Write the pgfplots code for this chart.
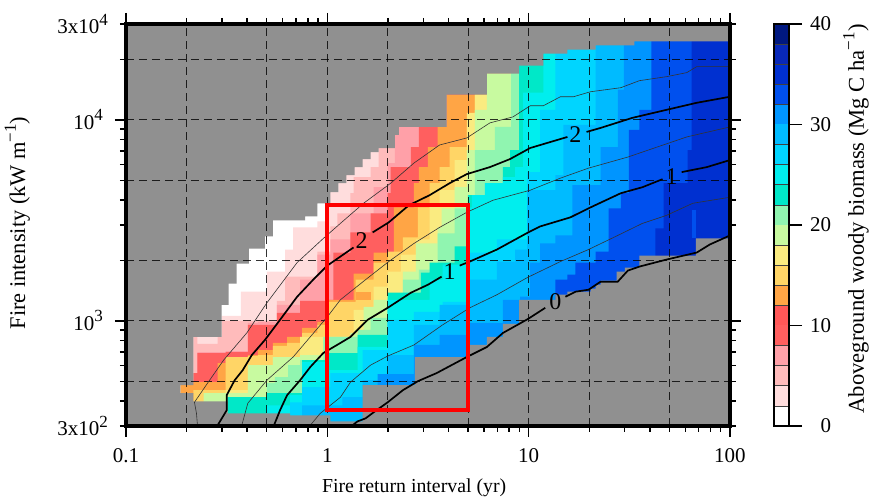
\documentclass[border=0pt]{standalone}
\usepackage{fontspec}
\setmainfont{Liberation Serif}
\usepackage{pgfplots}
\pgfplotsset{compat=1.18}
\definecolor{nodata}{HTML}{909090}
\definecolor{lv0}{HTML}{FFFFFF}
\definecolor{lv2}{HTML}{FFDDDD}
\definecolor{lv4}{HTML}{FFBBBB}
\definecolor{lv6}{HTML}{FFA0A8}
\definecolor{lv8}{HTML}{FF5F5F}
\definecolor{lv10}{HTML}{FF5858}
\definecolor{lv12}{HTML}{FFA545}
\definecolor{lv14}{HTML}{FFD566}
\definecolor{lv16}{HTML}{FAEB80}
\definecolor{lv18}{HTML}{C8FAA0}
\definecolor{lv20}{HTML}{90F5B0}
\definecolor{lv22}{HTML}{00E8C8}
\definecolor{lv24}{HTML}{00EEEE}
\definecolor{lv26}{HTML}{00D5FF}
\definecolor{lv28}{HTML}{00BBFF}
\definecolor{lv30}{HTML}{0095FF}
\definecolor{lv32}{HTML}{0050EE}
\definecolor{lv34}{HTML}{0030D0}
\definecolor{lv36}{HTML}{0828B8}
\definecolor{lv38}{HTML}{001880}
\tikzset{
  griddash/.style={black, line width=0.5pt, dash pattern=on 4pt off 2.5pt, opacity=0.8},
  thickc/.style={black, line width=0.85pt},
  thinc/.style={black!80, line width=0.3pt},
  clabel/.style={font=\fontsize{12}{12}\selectfont, inner sep=0pt},
}
% level n: top edge (log10 intensity vs log10 return interval) of the area with biomass >= n
\newcommand{\level}[2]{\addplot[const plot, fill=lv#1, draw=none] coordinates {#2} \closedcycle;}
\newcommand{\cbar}[3]{\addplot[fill=#1, draw=none] coordinates {(0,#2) (1,#2) (1,#3) (0,#3)} -- cycle;}
\newcommand{\sps}[1]{\raisebox{0.42em}{\fontsize{8.5}{8.5}\selectfont #1}}
\begin{document}
\begin{tikzpicture}[font=\fontsize{10.5}{12}\selectfont]
\useasboundingbox (-63pt,-37.5pt) rectangle (371.5pt,213pt);
\begin{axis}[
  at={(0,0)}, anchor=south west,
  scale only axis, width=302pt, height=201pt,
  xmin=-1, xmax=2, ymin=2.477, ymax=4.477,
  axis on top,
  axis background/.style={fill=white},
  axis line style={line width=1.7pt},
  tick align=outside,
  tick style={black, line width=0.7pt},
  tick label style={font=\fontsize{10.5}{12}\selectfont},
  x tick label style={yshift=-2.2pt},
  y tick label style={xshift=-2.5pt},
  major tick length=5.5pt, minor tick length=3pt,
  xtick={-1,0,1,2}, xticklabels={0.1,1,10,100},
  minor xtick={-0.699,-0.523,-0.398,-0.301,-0.222,-0.155,-0.097,-0.046,
    0.301,0.477,0.602,0.699,0.778,0.845,0.903,0.954,
    1.301,1.477,1.602,1.699,1.778,1.845,1.903,1.954},
  ytick={3,4}, yticklabels={10\sps{3},10\sps{4}},
  extra y ticks={2.477,4.477},
  extra y tick labels={3x10\sps{2},3x10\sps{4}},
  extra y tick style={major tick length=3pt},
  minor ytick={2.602,2.699,2.778,2.845,2.903,2.954,
    3.301,3.477,3.602,3.699,3.778,3.845,3.903,3.954,4.301},
  xlabel={Fire return interval (yr)},
  ylabel={Fire intensity (kW m\sps{−1})},
  x label style={at={(axis description cs:0.477,-0.154)}, anchor=center, font=\fontsize{9.9}{12}\selectfont},
  y label style={at={(axis description cs:-0.18,0.505)}, anchor=center, font=\fontsize{11.2}{12}\selectfont},
]
\addplot[fill=lv0, draw=none] coordinates {(-1,2.477) (2,2.477) (2,4.477) (-1,4.477)} -- cycle;
\level{2}{(-.665,2.92)(-.525,3.025)(-.43,3.145)(-.30,3.245)(-.21,3.355)(-.17,3.465)(-.05,3.495)(0,3.64)(.055,4.477)(2,4.477)}
\level{4}{(-.665,2.92)(-.645,2.885)(-.545,2.92)(-.525,3)(-.25,3.10)(-.21,3.22)(-.05,3.345)(.015,3.47)(.05,3.535)(.115,3.635)(.13,3.715)(.215,3.765)(.255,3.86)(.335,3.925)(.355,4.477)(2,4.477)}
\level{6}{(-.645,2.845)(-.505,2.85)(-.395,2.99)(-.345,2.995)(-.25,3.08)(-.135,3.205)(-.05,3.33)(.015,3.405)(.115,3.535)(.23,3.665)(.30,3.785)(.335,3.965)(.365,4.477)(2,4.477)}
\level{8}{(-.665,2.74)(-.645,2.84)(-.505,2.845)(-.395,2.98)(-.25,3.04)(-.135,3.10)(0,3.105)(.03,3.34)(.115,3.44)(.215,3.535)(.30,3.635)(.315,3.765)(.415,3.865)(.455,3.965)(.5925,4.477)(2,4.477)}
\level{12}{(-.73,2.68)(-.665,2.695)(-.545,2.79)(-.505,2.82)(-.395,2.83)(-.345,2.855)(-.27,2.89)(-.20,2.92)(-.125,2.965)(-.05,2.995)(0,3.105)(.13,3.235)(.23,3.34)(.33,3.565)(.43,3.685)(.455,3.765)(.50,3.865)(.5475,3.965)(.5925,4.125)(.7325,4.477)(2,4.477)}
\level{14}{(-.665,2.655)(-.505,2.82)(-.395,2.825)(-.345,2.83)(-.27,2.875)(-.20,2.89)(-.125,2.94)(-.05,2.98)(0,3.095)(.14,3.205)(.23,3.29)(.30,3.345)(.375,3.415)(.45,3.565)(.5075,3.685)(.5575,3.765)(.6075,3.865)(.6925,3.965)(.7325,4.125)(.7925,4.477)(2,4.477)}
\addplot[fill=lv12, draw=none] coordinates {(.14,3.105) (.215,3.105) (.215,3.145) (.14,3.145)} -- cycle;
\level{16}{(-.615,2.60)(-.505,2.655)(-.395,2.77)(-.27,2.82)(-.135,2.92)(.13,3.055)(.23,3.17)(.30,3.245)(.365,3.33)(.44,3.405)(.5075,3.575)(.5575,3.65)(.6325,3.80)(.6925,4.035)(.7325,4.125)(.7925,4.477)(2,4.477)}
\level{18}{(-.615,2.64)(-.395,2.78)(-.27,2.82)(-.135,2.83)(-.02,2.92)(.115,2.94)(.18,3.07)(.23,3.105)(.375,3.245)(.44,3.385)(.5475,3.465)(.5675,3.56)(.6325,3.665)(.6925,3.85)(.7325,4.05)(.7925,4.23)(.9125,4.477)(2,4.477)}
\level{20}{(-.50,2.62)(-.30,2.69)(-.26,2.72)(-.195,2.78)(-.135,2.805)(-.02,2.92)(.15,2.955)(.215,3.015)(.30,3.105)(.375,3.205)(.455,3.255)(.5475,3.435)(.6325,3.56)(.7325,3.85)(.8325,3.965)(.9125,4.477)(2,4.477)}
\level{22}{(-.495,2.62)(-.30,2.64)(-.125,2.805)(0,2.84)(.15,2.93)(.30,3.14)(.465,3.24)(.5075,3.29)(.6325,3.37)(.6975,3.625)(.7925,3.685)(.8725,3.765)(.9075,3.85)(.9525,4.477)(2,4.477)}
\level{24}{(-.30,2.58)(-.185,2.63)(-.125,2.795)(0,2.755)(.15,2.87)(.30,3.105)(.5075,3.205)(.5725,3.28)(.6925,3.565)(.7175,3.625)(.7825,3.685)(.8725,3.715)(.9325,3.765)(.9725,4.135)(1.0725,4.477)(2,4.477)}
\level{26}{(-.185,2.595)(-.125,2.67)(.015,2.74)(.175,2.855)(.30,3.005)(.43,3.045)(.5725,3.095)(.6925,3.34)(.8425,3.405)(.9925,3.74)(1.0575,4.05)(1.1325,4.477)(2,4.477)}
\level{28}{(-.125,2.58)(.075,2.62)(.175,2.705)(.30,2.83)(.43,2.98)(.5575,3.08)(.6925,3.205)(.8425,3.295)(.9325,3.355)(.9925,3.65)(1.1325,3.725)(1.1725,3.975)(1.3325,4.477)(2,4.477)}
\level{30}{(.25,2.735)(.43,2.88)(.5575,2.93)(.6975,2.99)(.8725,3.105)(.9575,3.12)(1.0075,3.29)(1.0575,3.385)(1.1325,3.425)(1.2175,3.675)(1.3575,3.865)(1.4425,4.15)(1.4725,4.477)(2,4.477)}
\level{32}{(1.1325,3.205)(1.1925,3.23)(1.2325,3.29)(1.3325,3.345)(1.3975,3.56)(1.4575,3.635)(1.4975,3.95)(1.55,4.05)(1.61,4.477)(2,4.477)}
\level{34}{(1.63,3.46)(1.67,3.685)(1.79,3.85)(1.81,4.477)(2,4.477)}
\addplot[fill=lv32, draw=none] coordinates {(1.81,3.41) (1.83,3.41) (1.83,3.55) (1.81,3.55)} -- cycle;
% grey where there is no model output
\addplot[const plot, fill=nodata, draw=none] coordinates {(-1,2.477)(-.73,2.68)(-.665,2.92)(-.525,3.08)(-.49,3.185)(-.45,3.285)(-.39,3.36)(-.31,3.42)(-.27,3.50)(-.11,3.52)(-.05,3.585)(.015,3.64)(.055,3.685)(.095,3.725)(.135,3.765)(.175,3.805)(.215,3.84)(.255,3.86)(.335,3.925)(.355,3.965)(.5925,4.125)(.7925,4.23)(.9525,4.27)(1.0725,4.33)(1.1925,4.35)(1.3325,4.37)(1.525,4.39)(2,4.39)} -- (axis cs:2,4.477) -- (axis cs:-1,4.477) -- cycle;
\addplot[const plot, fill=nodata, draw=none] coordinates {(-1,2.64)(-.665,2.60)(-.495,2.54)(-.185,2.53)(.015,2.50)(.175,2.68)(.435,2.82)(.6975,2.88)(.7925,2.92)(.8725,2.985)(.9525,3.105)(1.1325,3.13)(1.1925,3.145)(1.3075,3.16)(1.3325,3.18)(1.3575,3.20)(1.4375,3.245)(1.4775,3.265)(1.55,3.325)(1.83,3.41)(2,3.41)} \closedcycle;
% dashed reference lines
\pgfplotsinvokeforeach{-0.699,-0.301,0,0.301,0.699,1,1.301,1.699}{
  \addplot[griddash] coordinates {(#1,2.477) (#1,4.477)};
}
\pgfplotsinvokeforeach{2.699,3,3.301,3.699,4,4.301}{
  \addplot[griddash] coordinates {(-1,#1) (2,#1)};
}
% contours
\addplot[thickc] coordinates {(-.545,2.48)(-.50,2.555)(-.50,2.63)(-.46,2.705)(-.42,2.755)(-.375,2.83)(-.31,2.905)(-.235,3.005)(-.15,3.12)(-.07,3.205)(0,3.275)(.065,3.32)(.13,3.365)};
\addplot[thickc] coordinates {(.225,3.44)(.305,3.49)(.405,3.575)(.5075,3.625)(.6075,3.685)(.6925,3.73)(.8075,3.765)(.9075,3.805)(1.0075,3.86)(1.1925,3.915)};
\addplot[thickc] coordinates {(1.2875,3.94)(1.3575,3.96)(1.515,4.01)(1.685,4.05)(1.835,4.085)(2,4.115)};
\addplot[thickc] coordinates {(-.265,2.48)(-.235,2.555)(-.20,2.63)(-.135,2.705)(-.085,2.77)(-.02,2.84)(.065,2.89)(.115,2.92)(.20,3.005)(.30,3.065)(.415,3.14)(.5,3.18)(.5675,3.22)};
\addplot[thickc] coordinates {(.6575,3.275)(.7075,3.295)(.8425,3.355)(.9975,3.44)(1.0575,3.47)(1.2075,3.515)(1.2975,3.56)(1.4575,3.635)(1.565,3.665)(1.665,3.705)};
\addplot[thickc] coordinates {(1.76,3.74)(1.885,3.765)(2,3.80)};
\addplot[thickc] coordinates {(.125,2.48)(.15,2.50)(.19,2.515)(.23,2.545)(.30,2.595)(.375,2.655)(.45,2.70)(.5425,2.74)(.6925,2.82)(.7925,2.87)(.8725,2.94)(.9975,3.01)(1.0825,3.065)};
\addplot[thickc] coordinates {(1.1825,3.12)(1.2325,3.145)(1.2975,3.155)(1.3575,3.195)(1.4425,3.195)(1.4925,3.25)(1.55,3.27)(1.685,3.305)(1.835,3.34)(1.90,3.38)(2,3.425)};
\addplot[thinc] coordinates {(-.645,2.48)(-.65,2.54)(-.66,2.595)(-.595,2.69)(-.515,2.805)(-.40,2.94)(-.30,3.09)(-.15,3.29)(-.02,3.41)(.065,3.485)(.18,3.585)(.315,3.685)(.43,3.785)(.5575,3.875)(.6925,3.91)(.8075,3.985)(.9225,4.015)(1.0075,4.07)(1.0725,4.07)(1.1575,4.115)(1.2225,4.115)(1.3075,4.14)(1.4575,4.16)(1.55,4.195)(1.685,4.215)(1.785,4.235)(1.835,4.265)(2,4.265)};
\addplot[thinc] coordinates {(-.425,2.48)(-.395,2.59)(-.30,2.705)(-.17,2.82)(0,3.02)(.065,3.105)(.19,3.205)(.305,3.295)(.43,3.385)(.5575,3.465)(.6925,3.54)(.8225,3.60)(1.0075,3.65)(1.1575,3.71)(1.2975,3.76)(1.4925,3.815)(1.785,3.915)(2,3.965)};
\addplot[thinc] coordinates {(-.085,2.48)(-.035,2.54)(.065,2.62)(.115,2.695)(.215,2.78)(.30,2.825)(.43,2.88)(.5725,2.98)(.7075,3.065)(.8425,3.13)(.9925,3.215)(1.1575,3.295)(1.2975,3.355)(1.4425,3.425)(1.565,3.485)(1.685,3.525)(1.815,3.585)(2,3.615)};
% study window
\addplot[red, line width=1.9pt] coordinates {(0,2.557) (.699,2.557) (.699,3.577) (0,3.577)} -- cycle;
\node[clabel] at (axis cs:.17,3.40) {2};
\node[clabel] at (axis cs:1.2325,3.925) {2};
\node[clabel] at (axis cs:.6075,3.245) {1};
\node[clabel] at (axis cs:1.71,3.72) {1};
\node[clabel] at (axis cs:1.1325,3.095) {0};
\end{axis}
% colour bar
\begin{axis}[
  at={(324pt,0)}, anchor=south west,
  scale only axis, width=7.5pt, height=201pt,
  xmin=0, xmax=1, ymin=0, ymax=40,
  axis on top,
  axis line style={line width=1.1pt},
  xtick=\empty,
  ytick={0,10,20,30,40}, yticklabels={0,10,20,30,40},
  minor ytick={2,4,6,8,12,14,16,18,22,24,26,28,32,34,36,38},
  yminorgrids, minor grid style={black!75, line width=0.35pt},
  ytick pos=right, yticklabel pos=right,
  tick align=outside,
  tick style={black, line width=0.7pt},
  tick label style={font=\fontsize{10.5}{12}\selectfont},
  major tick length=6.5pt, minor tick length=0pt,
  yticklabel style={text width=11pt, align=right},
  ylabel={Aboveground woody biomass (Mg C ha\sps{−1})},
  y label style={at={(axis description cs:5.47,0.515)}, anchor=center, font=\fontsize{11.3}{12}\selectfont},
]
\cbar{lv0}{0}{2}\cbar{lv2}{2}{4}\cbar{lv4}{4}{6}\cbar{lv6}{6}{8}\cbar{lv8}{8}{10}
\cbar{lv10}{10}{12}\cbar{lv12}{12}{14}\cbar{lv14}{14}{16}\cbar{lv16}{16}{18}\cbar{lv18}{18}{20}
\cbar{lv20}{20}{22}\cbar{lv22}{22}{24}\cbar{lv24}{24}{26}\cbar{lv26}{26}{28}\cbar{lv28}{28}{30}
\cbar{lv30}{30}{32}\cbar{lv32}{32}{34}\cbar{lv34}{34}{36}\cbar{lv36}{36}{38}\cbar{lv38}{38}{40}
\end{axis}
\end{tikzpicture}
\end{document}
